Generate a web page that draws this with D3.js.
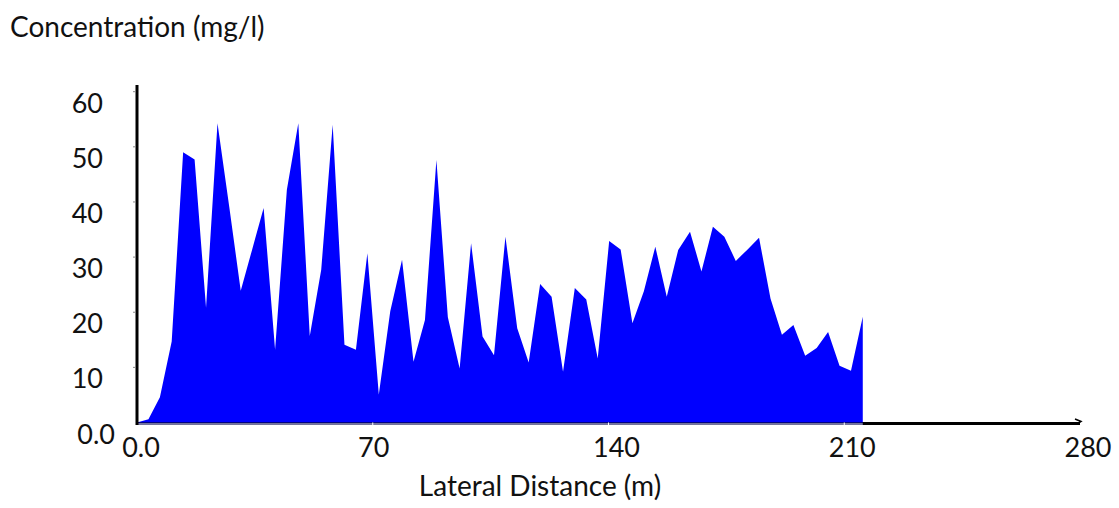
<!DOCTYPE html>
<html>
<head>
<meta charset="utf-8">
<script src="https://cdn.jsdelivr.net/npm/d3@7"></script>
<style>
  body { margin: 0; background: #fff; }
  text { font-family: Lato, "Open Sans", sans-serif; fill: #111; }
</style>
</head>
<body>
<script>
// lateral distance (m)
const distance = [0, 3.4, 6.8, 10.3, 13.7, 17.1, 20.5, 23.9, 27.4, 30.8, 34.2, 37.6, 41.0, 44.5,
  47.9, 51.3, 54.7, 58.1, 61.6, 65.0, 68.4, 71.8, 75.2, 78.7, 82.1, 85.5, 88.9, 92.3, 95.8,
  99.2, 102.6, 106.0, 109.4, 112.9, 116.3, 119.7, 123.1, 126.5, 130.0, 133.4, 136.8, 140.2,
  143.6, 147.1, 150.5, 153.9, 157.3, 160.7, 164.2, 167.6, 171.0, 174.4, 177.8, 181.3, 184.7,
  188.1, 191.5, 194.9, 198.4, 201.8, 205.2, 208.6, 212.0, 215.5]
// concentration (mg/l)
const concentration = [0, 0.6, 4.6, 14.7, 49.0, 47.7, 20.8, 54.3, 39.1, 23.9, 31.4, 38.9, 13.2, 42.2,
  54.3, 15.7, 27.7, 54.0, 14.1, 13.2, 30.7, 5.1, 20.2, 29.5, 11.0, 18.6, 47.6, 19.1, 9.8,
  32.5, 15.6, 12.2, 33.7, 17.1, 10.9, 25.1, 22.8, 9.2, 24.4, 22.3, 11.6, 32.9,
  31.4, 18.0, 23.8, 31.9, 22.8, 31.3, 34.6, 27.4, 35.5, 33.7, 29.3, 31.4, 33.5,
  22.5, 15.9, 17.7, 12.1, 13.5, 16.4, 10.3, 9.4, 19.2]

const xTicks = [0, 70, 140, 210, 280]
const xTickLabels = ['0.0', '70', '140', '210', '280']
const yTicks = [0, 10, 20, 30, 40, 50, 60]
const yTickLabels = ['0.0', '10', '20', '30', '40', '50', '60']

const width = 1119, height = 508
const svg = d3.select('body').append('svg')
    .attr('width', width)
    .attr('height', height)

const x = d3.scaleLinear().domain([0, 280]).range([137, 1080])
const y = d3.scaleLinear().domain([0, 60]).range([422.5, 91.7])

const data = distance.map((d, i) => ({ d: d, c: concentration[i] }))

// x axis line (black) with arrow
svg.append('line')
    .attr('x1', x(0)).attr('x2', x(280))
    .attr('y1', 423.5).attr('y2', 423.5)
    .attr('stroke', '#000').attr('stroke-width', 3)
svg.append('path')
    .attr('d', d3.line()([[x(280) - 5, 419], [x(280) + 1, 421.5], [x(280) - 3, 424]]))
    .attr('fill', 'none').attr('stroke', '#000').attr('stroke-width', 1.5)

// area
svg.append('path')
    .datum(data)
    .attr('fill', '#0000ff')
    .attr('d', d3.area().x(d => x(d.d)).y0(y(0)).y1(d => y(d.c)))

// lighter baseline under the area
svg.append('line')
    .attr('x1', x(0)).attr('x2', x(distance[distance.length - 1]))
    .attr('y1', 424).attr('y2', 424)
    .attr('stroke', '#9a9ad0').attr('stroke-width', 1.5)

// x tick marks (white notches)
svg.selectAll('.xtick')
  .data(xTicks.slice(1, 4))
  .enter().append('line')
    .attr('x1', d => x(d)).attr('x2', d => x(d))
    .attr('y1', 422.5).attr('y2', 425)
    .attr('stroke', '#fff').attr('stroke-width', 1)

// y axis line
svg.append('line')
    .attr('x1', x(0)).attr('x2', x(0))
    .attr('y1', 85).attr('y2', 425)
    .attr('stroke', '#000').attr('stroke-width', 3)

svg.selectAll('.ytick')
  .data(yTicks.slice(1))
  .enter().append('line')
    .attr('x1', x(0) - 4).attr('x2', x(0) - 1.5)
    .attr('y1', d => y(d)).attr('y2', d => y(d))
    .attr('stroke', '#888').attr('stroke-width', 1)

// tick labels
svg.selectAll('.ylabel')
  .data(yTicks)
  .enter().append('text')
    .attr('x', d => d === 0 ? 115 : 103)
    .attr('y', d => y(d) + 21)
    .attr('text-anchor', 'end')
    .style('font-size', '27px')
    .text((d, i) => yTickLabels[i])

svg.selectAll('.xlabel')
  .data(xTicks)
  .enter().append('text')
    .attr('x', (d, i) => x(d) + (i === 0 ? 4 : i === 1 ? 1 : 8))
    .attr('y', 457)
    .attr('text-anchor', 'middle')
    .style('font-size', '27px')
    .text((d, i) => xTickLabels[i])

// titles
svg.append('text')
    .attr('x', 10).attr('y', 37)
    .style('font-size', '28px')
    .text('Concentration (mg/l)')

svg.append('text')
    .attr('x', 540).attr('y', 496)
    .attr('text-anchor', 'middle')
    .style('font-size', '28px')
    .text('Lateral Distance (m)')
</script>
</body>
</html>
